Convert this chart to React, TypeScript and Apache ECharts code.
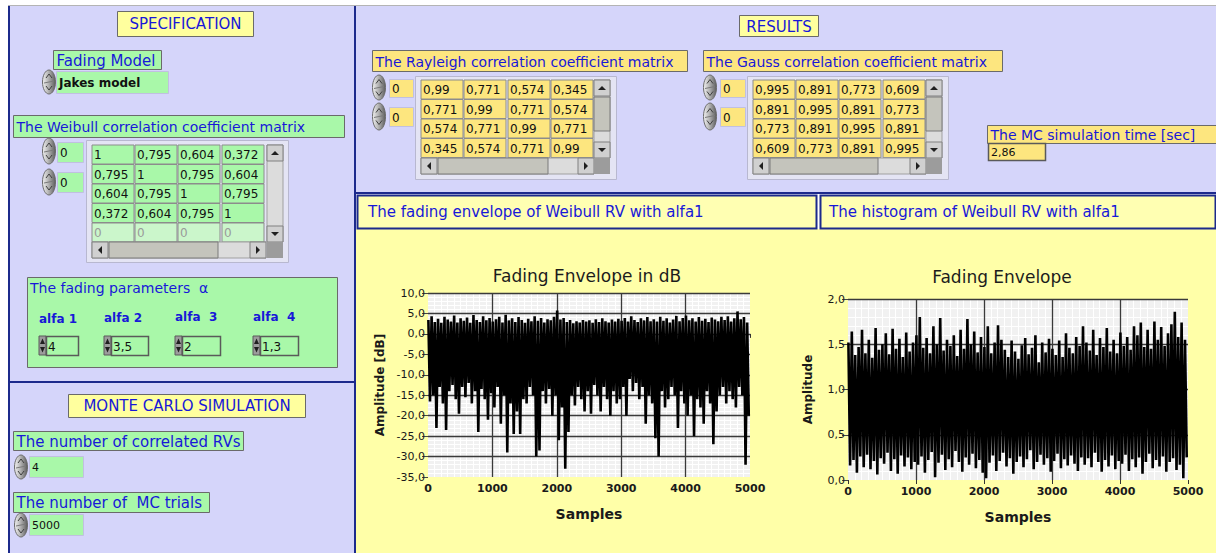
import React, { useEffect, useRef } from 'react';
import * as echarts from 'echarts';

// ---------- data ----------
const BIN = 50; // samples per bin (5000 samples -> 100 bins)
const sampleAxis = { min: 0, max: 5000, step: 1000 };

// Fading envelope in dB: per-bin maxima / minima
const dbMax = [
  3.4, 4.3, 2.9, 3.7, 2.7, 4.2, 3.5, 3.0, 4.5, 2.8,
  3.8, 3.2, 4.0, 2.7, 4.6, 3.4, 2.9, 4.3, 3.3, 3.9,
  3.0, 3.6, 4.2, 2.8, 4.7, 3.3, 3.8, 2.9, 4.1, 3.4,
  2.7, 3.7, 3.1, 4.3, 3.2, 3.9, 2.8, 3.6, 3.3, 4.2,
  5.7, 3.5, 3.9, 2.9, 3.4, 2.6, 3.1, 2.8, 3.4, 3.0,
  3.3, 2.7, 3.6, 2.9, 3.8, 3.1, 2.8, 3.5, 3.0, 3.7,
  3.2, 3.9, 3.0, 4.3, 3.4, 2.9, 3.8, 3.3, 4.1, 3.1,
  3.6, 3.0, 4.2, 3.2, 3.8, 2.8, 3.5, 4.4, 3.1, 3.9,
  4.5, 3.3, 3.8, 3.0, 4.1, 3.2, 3.7, 2.9, 4.0, 3.5,
  3.1, 4.2, 3.4, 4.3, 3.0, 3.8, 5.5, 3.6, 4.1, 2.8,
];
const dbMin = [
  -16.5, -15, -23, -13, -17, -23.5, -14, -12.5, -16, -19.5,
  -13, -15.5, -12, -17, -14, -24, -13.5, -16, -21, -14.5,
  -18, -13, -22, -15, -29, -17, -24.5, -19, -24.5, -16,
  -17, -13, -15, -30, -28.5, -14, -17, -13.5, -20, -15,
  -26, -18, -33, -24, -15, -17.5, -13, -16, -19, -14,
  -19.5, -12.5, -15, -19, -13, -16, -20, -14, -17, -16,
  -13, -20, -11, -14, -12, -16, -13, -22, -15, -17,
  -25.5, -30, -14, -18, -16, -13, -15, -23, -14, -17,
  -20, -15, -25, -16, -18, -22, -14, -17, -27, -19,
  -15, -13, -17, -14, -16, -18, -13, -15, -32, -20,
];

// Fading envelope (linear amplitude): per-bin maxima / minima
const ampMax = [
  1.52, 1.64, 1.38, 1.47, 1.66, 1.40, 1.55, 1.35, 1.68, 1.44,
  1.50, 1.62, 1.39, 1.67, 1.45, 1.56, 1.36, 1.63, 1.42, 1.52,
  1.60, 1.80, 1.46, 1.57, 1.40, 1.70, 1.50, 1.79, 1.43, 1.55,
  1.48, 1.60, 1.37, 1.66, 1.45, 1.78, 1.50, 1.64, 1.41, 1.58,
  1.47, 1.70, 1.40, 1.52, 1.71, 1.55, 1.44, 1.36, 1.54, 1.42,
  1.34, 1.49, 1.57, 1.39, 1.46, 1.60, 1.30, 1.52, 1.41, 1.56,
  1.45, 1.38, 1.54, 1.36, 1.62, 1.46, 1.40, 1.58, 1.48, 1.70,
  1.52, 1.43, 1.66, 1.38, 1.57, 1.47, 1.68, 1.42, 1.55, 1.40,
  1.63, 1.48, 1.58, 1.44, 1.70, 1.60, 1.74, 1.47, 1.66, 1.45,
  1.75, 1.55, 1.69, 1.48, 1.62, 1.72, 1.86, 1.58, 1.74, 1.55,
];
const ampMin = [
  0.16, 0.22, 0.08, 0.26, 0.14, 0.28, 0.12, 0.21, 0.06, 0.24,
  0.18, 0.30, 0.10, 0.23, 0.07, 0.27, 0.15, 0.25, 0.12, 0.20,
  0.17, 0.26, 0.08, 0.22, 0.31, 0.03, 0.19, 0.28, 0.11, 0.23,
  0.14, 0.32, 0.20, 0.09, 0.25, 0.17, 0.29, 0.13, 0.22, 0.08,
  0.02, 0.19, 0.27, 0.10, 0.21, 0.30, 0.15, 0.24, 0.07, 0.20,
  0.26, 0.14, 0.23, 0.33, 0.12, 0.20, 0.28, 0.17, 0.24, 0.09,
  0.21, 0.29, 0.13, 0.23, 0.16, 0.27, 0.18, 0.10, 0.25, 0.17,
  0.24, 0.14, 0.30, 0.20, 0.09, 0.22, 0.15, 0.27, 0.12, 0.21,
  0.18, 0.28, 0.10, 0.23, 0.14, 0.25, 0.07, 0.20, 0.29, 0.13,
  0.22, 0.15, 0.26, 0.09, 0.20, 0.24, 0.11, 0.17, 0.02, 0.25,
];

const weibullMatrix = [
  ['1', '0,795', '0,604', '0,372'],
  ['0,795', '1', '0,795', '0,604'],
  ['0,604', '0,795', '1', '0,795'],
  ['0,372', '0,604', '0,795', '1'],
  ['0', '0', '0', '0'],
];
const rayleighMatrix = [
  ['0,99', '0,771', '0,574', '0,345'],
  ['0,771', '0,99', '0,771', '0,574'],
  ['0,574', '0,771', '0,99', '0,771'],
  ['0,345', '0,574', '0,771', '0,99'],
];
const gaussMatrix = [
  ['0,995', '0,891', '0,773', '0,609'],
  ['0,891', '0,995', '0,891', '0,773'],
  ['0,773', '0,891', '0,995', '0,891'],
  ['0,609', '0,773', '0,891', '0,995'],
];
const alfaLabels = ['alfa 1', 'alfa 2', 'alfa  3', 'alfa  4'];
const alfaValues = ['4', '3,5', '2', '1,3'];
const fadingModel = 'Jakes model';
const numRVs = '4';
const numTrials = '5000';
const mcTime = '2,86';

// ---------- styles ----------
const LAV = '#d5d5fa';
const GREEN = '#a9f8a9';
const GREEN_FADE = '#cbf6cb';
const LYEL = '#fde67f';
const BYEL = '#ffff9e';
const AREA = '#ffffa8';
const TBOX = '#ffffb2';
const BLUE = '#1818d8';
const NAVY = '#1c2a8c';
const FF = '"DejaVu Sans", Verdana, sans-serif';

function envLine(maxs: number[], mins: number[]) {
  const out: number[][] = [];
  maxs.forEach((m, i) => {
    out.push([i * BIN + 6, m]);
    out.push([i * BIN + 31, mins[i]]);
  });
  return out;
}

function buildGraphics() {
  const g: any[] = [];
  const rect = (x: number, y: number, w: number, h: number, fill: string, stroke?: string, lw = 1, z = -5) =>
    g.push({ type: 'rect', silent: true, z, shape: { x, y, width: w, height: h }, style: { fill, stroke: stroke || null, lineWidth: lw } });
  const txt = (x: number, y: number, s: string, font: string, fill = BLUE, align = 'left') =>
    g.push({ type: 'text', silent: true, z: -3, x, y, style: { text: s, font, fill, textAlign: align, textVerticalAlign: 'middle' } });
  const poly = (pts: number[][], fill: string) =>
    g.push({ type: 'polygon', silent: true, z: -3, shape: { points: pts }, style: { fill } });
  const pline = (pts: number[][], stroke: string, lw = 1) =>
    g.push({ type: 'polyline', silent: true, z: -3, shape: { points: pts }, style: { stroke, lineWidth: lw, fill: null } });

  const spinner = (x: number, y: number, h = 24) => {
    const cy = y + h / 2;
    g.push({
      type: 'ellipse', silent: true, z: -4,
      shape: { cx: x + 7, cy, rx: 6.5, ry: h / 2 },
      style: {
        fill: { type: 'linear', x: 0, y: 0, x2: 1, y2: 0, colorStops: [
          { offset: 0, color: '#f2f2f2' }, { offset: 0.45, color: '#b4b4b4' }, { offset: 1, color: '#5c5c5c' } ] },
        stroke: '#6c6c6c', lineWidth: 1,
      },
    });
    pline([[x + 4, cy - 4], [x + 7, cy - 8], [x + 10, cy - 4]], '#404040');
    pline([[x + 4, cy + 4], [x + 7, cy + 8], [x + 10, cy + 4]], '#404040');
    pline([[x + 2, cy + 1], [x + 12, cy - 1]], '#7a7a7a');
  };
  const smallArrows = (x: number, y: number, h = 19) => {
    rect(x, y, 7, h, '#9c9c9c', '#5a5a5a', 1, -4);
    poly([[x + 1, y + h / 2 - 1.5], [x + 6, y + h / 2 - 1.5], [x + 3.5, y + 2.5]], '#202020');
    poly([[x + 1, y + h / 2 + 1.5], [x + 6, y + h / 2 + 1.5], [x + 3.5, y + h - 2.5]], '#202020');
  };
  const vscroll = (x: number, y: number, h: number, thumb?: [number, number]) => {
    rect(x, y, 16, h, '#dcdcdc', '#a0a0a0', 1, -4);
    rect(x, y, 16, 16, '#d0d0d0', '#808080', 1, -4);
    poly([[x + 4, y + 10], [x + 12, y + 10], [x + 8, y + 6]], '#202020');
    rect(x, y + h - 16, 16, 16, '#d0d0d0', '#808080', 1, -4);
    poly([[x + 4, y + h - 10], [x + 12, y + h - 10], [x + 8, y + h - 6]], '#202020');
    if (thumb) rect(x, thumb[0], 16, thumb[1] - thumb[0], '#c4c4bc', '#7a7a7a', 1, -4);
  };
  const hscroll = (x: number, y: number, w: number, thumb: [number, number]) => {
    rect(x, y, w, 16, '#dcdcdc', '#a0a0a0', 1, -4);
    rect(x, y, 16, 16, '#d0d0d0', '#808080', 1, -4);
    poly([[x + 10, y + 4], [x + 10, y + 12], [x + 6, y + 8]], '#202020');
    rect(x + w - 16, y, 16, 16, '#d0d0d0', '#808080', 1, -4);
    poly([[x + w - 10, y + 4], [x + w - 10, y + 12], [x + w - 6, y + 8]], '#202020');
    rect(thumb[0], y, thumb[1] - thumb[0], 16, '#c4c4bc', '#7a7a7a', 1, -4);
  };
  const matrix = (cols: number[], rows: number[], data: string[][], fill: string, fadedLast: boolean) => {
    data.forEach((row, r) => {
      const faded = fadedLast && r === data.length - 1;
      row.forEach((v, c) => {
        rect(cols[c], rows[r], 42, 19, faded ? GREEN_FADE : fill, '#8c8c8c', 1, -4);
        txt(cols[c] + 2, rows[r] + 10, v, `12px ${FF}`, faded ? '#9a9a9a' : '#111111');
      });
    });
  };
  const label = (x: number, y: number, w: number, h: number, s: string, fill: string, size = 14) => {
    rect(x, y, w, h, fill, '#6a6a6a', 1, -5);
    txt(x + 3, y + h / 2 + 0.5, s, `${size}px ${FF}`);
  };

  // backgrounds
  rect(8, 6, 347, 547, LAV, undefined, 1, -10);
  rect(356, 6, 860, 187, LAV, undefined, 1, -10);
  rect(356, 229, 860, 324, AREA, undefined, 1, -10);
  rect(8, 5, 1208, 1, '#b4b4b4', undefined, 1, -9);
  rect(8, 6, 2, 547, NAVY, undefined, 1, -9);
  rect(354, 6, 2, 547, NAVY, undefined, 1, -9);
  rect(8, 381, 347, 2, NAVY, undefined, 1, -9);
  rect(356, 192, 860, 2, NAVY, undefined, 1, -9);
  rect(357.5, 195.5, 459, 33, TBOX, NAVY, 2, -8);
  rect(820.5, 195.5, 395, 33, TBOX, NAVY, 2, -8);
  txt(368, 212, 'The fading envelope of Weibull RV with alfa1', `15px ${FF}`);
  txt(829, 212, 'The histogram of Weibull RV with alfa1', `15px ${FF}`);

  // ---- SPECIFICATION ----
  rect(117.5, 11.5, 136, 25, BYEL, '#6a6a6a');
  txt(185.5, 24, 'SPECIFICATION', `15px ${FF}`, BLUE, 'center');
  label(53.5, 50.5, 108, 19, 'Fading Model', GREEN, 15);
  spinner(42, 70, 24);
  rect(56.5, 71.5, 112, 22, GREEN, '#c0c0e0');
  txt(59, 83, fadingModel, `bold 12px ${FF}`, '#111111');

  label(13.5, 115.5, 331, 22, 'The Weibull correlation coefficient matrix', GREEN, 14);
  spinner(42, 138, 26);
  rect(57.5, 142.5, 26, 20, GREEN, '#c0c0e0');
  txt(60, 153, '0', `12px ${FF}`, '#111111');
  spinner(42, 169, 26);
  rect(57.5, 172.5, 26, 20, GREEN, '#c0c0e0');
  txt(60, 183, '0', `12px ${FF}`, '#111111');
  rect(86.5, 140.5, 202, 122, '#e4e4f4', '#b8b8d0');
  matrix([92, 135, 178, 222], [145, 164.5, 184, 203.5, 223], weibullMatrix, GREEN, true);
  vscroll(267, 145, 97);
  hscroll(92, 242, 174, [109, 218]);
  rect(267, 242, 16, 16, '#9c9c9c', undefined, 1, -4);

  // fading parameters
  rect(27.5, 277.5, 310, 90, GREEN, '#6a6a6a');
  txt(30, 288, 'The fading parameters  α', `14px ${FF}`);
  const ax = [39, 104, 175, 253];
  const bw = [32, 37, 38, 38];
  const ly = [319, 318, 317, 317];
  ax.forEach((x, i) => {
    txt(x, ly[i], alfaLabels[i], `bold 12px ${FF}`);
    smallArrows(x, 336, 19);
    rect(x + 7.5, 336.5, bw[i], 19, GREEN, '#5a5a5a', 1.5, -4);
    txt(x + 9, 346.5, alfaValues[i], `12px ${FF}`, '#111111');
  });

  // ---- MONTE CARLO ----
  rect(68.5, 394.5, 237, 23, BYEL, '#6a6a6a');
  txt(187, 406, 'MONTE CARLO SIMULATION', `15px ${FF}`, BLUE, 'center');
  label(13.5, 431.5, 230, 19, 'The number of correlated RVs', GREEN, 15);
  spinner(14, 455, 24);
  rect(29.5, 456.5, 54, 21, GREEN, '#c0c0e0');
  txt(32, 467.5, numRVs, `11px ${FF}`, '#111111');
  label(13.5, 492.5, 196, 20, 'The number of  MC trials', GREEN, 15);
  spinner(14, 513, 24);
  rect(29.5, 514.5, 54, 21, GREEN, '#c0c0e0');
  txt(32, 525.5, numTrials, `11px ${FF}`, '#111111');

  // ---- RESULTS ----
  rect(739.5, 15.5, 79, 21, BYEL, '#6a6a6a');
  txt(779, 26.5, 'RESULTS', `15px ${FF}`, BLUE, 'center');

  label(372.5, 50.5, 315, 21, 'The Rayleigh correlation coefficient matrix', LYEL, 14);
  spinner(372, 75, 25);
  rect(389.5, 79.5, 24, 18, LYEL, '#c0c0e0');
  txt(392, 89, '0', `12px ${FF}`, '#111111');
  spinner(372, 103, 27);
  rect(389.5, 107.5, 24, 19, LYEL, '#c0c0e0');
  txt(392, 117.5, '0', `12px ${FF}`, '#111111');
  rect(415.5, 76.5, 201, 103, '#e4e4f4', '#b8b8d0');
  matrix([421, 464, 508, 551], [80, 99.5, 119, 138.5], rayleighMatrix, LYEL, false);
  vscroll(594, 80, 78, [97, 131]);
  hscroll(421, 158, 173, [438, 548]);
  rect(594, 158, 16, 16, '#9c9c9c', undefined, 1, -4);

  label(703.5, 50.5, 299, 21, 'The Gauss correlation coefficient matrix', LYEL, 14);
  spinner(703, 75, 25);
  rect(720.5, 79.5, 25, 18, LYEL, '#c0c0e0');
  txt(723, 89, '0', `12px ${FF}`, '#111111');
  spinner(703, 103, 27);
  rect(720.5, 107.5, 25, 19, LYEL, '#c0c0e0');
  txt(723, 117.5, '0', `12px ${FF}`, '#111111');
  rect(747.5, 76.5, 201, 103, '#e4e4f4', '#b8b8d0');
  matrix([753, 796, 839, 883], [80, 99.5, 119, 138.5], gaussMatrix, LYEL, false);
  vscroll(926, 80, 78, [97, 131]);
  hscroll(753, 158, 173, [770, 878]);
  rect(926, 158, 16, 16, '#9c9c9c', undefined, 1, -4);

  label(987.5, 125.5, 229, 18, 'The MC simulation time [sec]', LYEL, 14);
  rect(988.5, 143.5, 57, 17, LYEL, '#5a5a5a', 1.5, -4);
  txt(991, 152.5, mcTime, `11px ${FF}`, '#111111');

  return g;
}

const fmt1 = (v: number) => v.toFixed(1).replace('.', ',');
const fmt0 = (v: number) => String(v);
const MAJOR = { color: '#3a3a3a', width: 1.3, type: 'solid' };
const MINOR = { color: '#ffffff', width: 1, type: 'solid' };

// main axes: labels, ticks, names and the white minor grid
function xAxisCfg(gridIndex: number) {
  return {
    gridIndex, type: 'value', min: sampleAxis.min, max: sampleAxis.max, interval: sampleAxis.step, z: 0,
    axisLine: { show: false },
    axisTick: { show: true, length: 4, lineStyle: { color: '#333333', type: 'solid' } },
    axisLabel: { formatter: fmt0, fontFamily: FF, fontWeight: 'bold', fontSize: 11, color: '#1a1a1a', margin: 6 },
    splitLine: { show: false },
    minorTick: { show: false, splitNumber: 10 },
    minorSplitLine: { show: true, lineStyle: MINOR },
    name: 'Samples', nameLocation: 'middle', nameGap: 30,
    nameTextStyle: { fontFamily: FF, fontWeight: 'bold', fontSize: 14, color: '#1a1a1a' },
  };
}
function yAxisCfg(gridIndex: number, min: number, max: number, interval: number, name: string, gap: number) {
  return {
    gridIndex, type: 'value', min, max, interval, z: 0,
    axisLine: { show: false },
    axisTick: { show: true, length: 6, lineStyle: { color: '#444444', type: 'solid' } },
    axisLabel: { formatter: fmt1, fontFamily: FF, fontSize: 11, color: '#1a1a1a', margin: 3 },
    splitLine: { show: false },
    minorTick: { show: false, splitNumber: 5 },
    minorSplitLine: { show: true, lineStyle: MINOR },
    name, nameLocation: 'middle', nameRotate: 90, nameGap: gap,
    nameTextStyle: { fontFamily: FF, fontWeight: 'bold', fontSize: 12, color: '#1a1a1a' },
  };
}
// overlay axes: only the dark major grid, drawn above the minor grid
function xMajor(gridIndex: number) {
  return {
    gridIndex, type: 'value', min: sampleAxis.min, max: sampleAxis.max, interval: sampleAxis.step, z: 1,
    axisLine: { show: false }, axisTick: { show: false }, axisLabel: { show: false },
    splitLine: { show: true, showMinLine: false, showMaxLine: false, lineStyle: MAJOR },
  };
}
function yMajor(gridIndex: number, min: number, max: number, interval: number) {
  return {
    gridIndex, type: 'value', min, max, interval, z: 1,
    axisLine: { show: false }, axisTick: { show: false }, axisLabel: { show: false },
    splitLine: { show: true, showMinLine: false, showMaxLine: true, lineStyle: MAJOR },
  };
}

export default function App() {
  const ref = useRef<HTMLDivElement>(null);
  useEffect(() => {
    if (!ref.current) return;
    const chart = echarts.init(ref.current, null, { renderer: 'svg' });
    const lineStyle = { color: '#000000', width: 2.6, join: 'bevel', cap: 'butt', type: 'solid' };
    const option: any = {
      animation: false,
      backgroundColor: '#ffffff',
      title: [
        { text: 'Fading Envelope in dB', left: 587, top: 267, textAlign: 'center', padding: 0,
          textStyle: { fontFamily: FF, fontSize: 17, fontWeight: 'normal', color: '#1c1c1c' } },
        { text: 'Fading Envelope', left: 1002, top: 268, textAlign: 'center', padding: 0,
          textStyle: { fontFamily: FF, fontSize: 17, fontWeight: 'normal', color: '#1c1c1c' } },
      ],
      grid: [
        { left: 428, top: 293, width: 322, height: 184, show: true, backgroundColor: '#f1f1f1', borderWidth: 0 },
        { left: 848, top: 299, width: 340, height: 181, show: true, backgroundColor: '#f1f1f1', borderWidth: 0 },
      ],
      xAxis: [xAxisCfg(0), xAxisCfg(1), xMajor(0), xMajor(1)],
      yAxis: [
        yAxisCfg(0, -35, 10, 5, 'Amplitude [dB]', 42),
        yAxisCfg(1, 0, 2, 0.5, 'Amplitude', 34),
        yMajor(0, -35, 10, 5),
        yMajor(1, 0, 2, 0.5),
      ],
      series: [
        { type: 'line', name: 'Fading Envelope in dB', xAxisIndex: 0, yAxisIndex: 0, data: envLine(dbMax, dbMin),
          symbol: 'none', showSymbol: false, silent: true, clip: true, lineStyle, z: 3 },
        { type: 'line', name: 'Fading Envelope', xAxisIndex: 1, yAxisIndex: 1, data: envLine(ampMax, ampMin),
          symbol: 'none', showSymbol: false, silent: true, clip: true, lineStyle, z: 3 },
      ],
      graphic: { elements: buildGraphics() },
    };
    chart.setOption(option);
    return () => chart.dispose();
  }, []);
  return <div ref={ref} style={{ position: 'fixed', left: 0, top: 0, width: 1216, height: 553 }} />;
}
